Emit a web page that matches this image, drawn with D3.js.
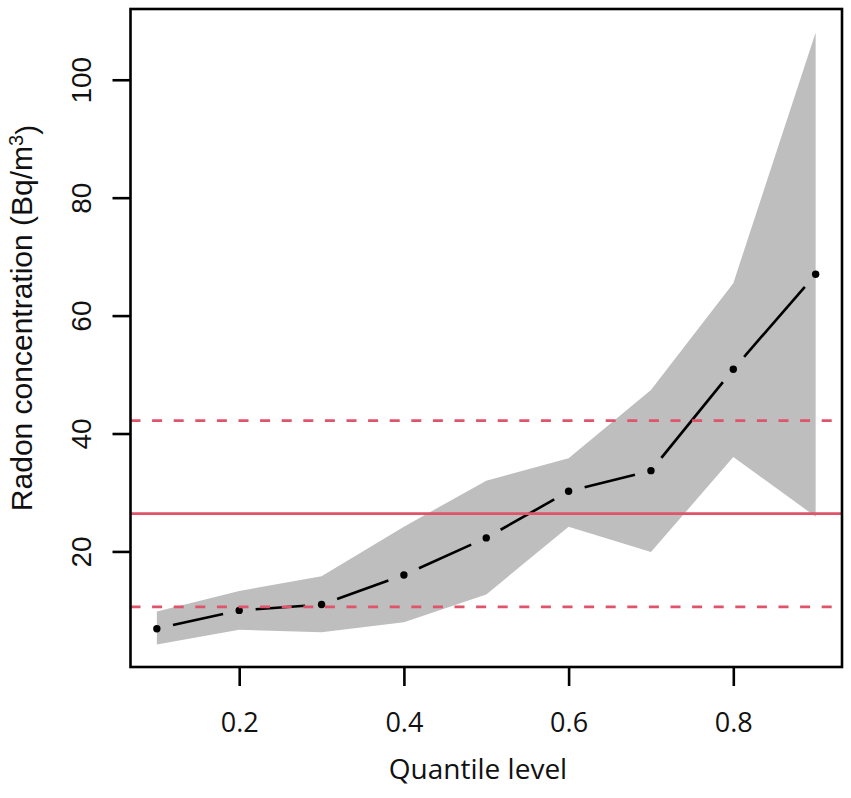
<!DOCTYPE html>
<html>
<head>
<meta charset="utf-8">
<script src="https://cdn.jsdelivr.net/npm/d3@7"></script>
<style>
  body { margin: 0; background: #fff; }
  svg { display: block; }
</style>
</head>
<body>
<div id="chart"></div>
<script>
// quantile levels and the estimated radon concentration at each one
const levels = [0.1, 0.2, 0.3, 0.4, 0.5, 0.6, 0.7, 0.8, 0.9];
const estimate = [6.9, 10.0, 11.0, 16.0, 22.3, 30.2, 33.7, 50.9, 67.0];
const bandLow = [4.2, 6.7, 6.3, 8.0, 12.7, 24.2, 19.9, 36.0, 25.9];
const bandHigh = [9.8, 13.3, 15.8, 24.2, 32.0, 35.8, 47.4, 65.5, 108.0];

// reference lines (solid mean, dashed limits)
const refMid = 26.4;
const refLimits = [10.6, 42.2];

const xTicks = [0.2, 0.4, 0.6, 0.8];
const yTicks = [20, 40, 60, 80, 100];

const width = 851, height = 798;
const red = "#DF536B";

let svg = d3.select("#chart").append("svg")
    .attr("width", width)
    .attr("height", height);

let x = d3.scaleLinear().domain([0.068, 0.932]).range([130.5, 842]);
let y = d3.scaleLinear().domain([0.4, 112]).range([667, 9]);

let rows = levels.map(function (q, i) {
    return {q: q, est: estimate[i], lo: bandLow[i], hi: bandHigh[i]};
});

// plot region clip so ablines stop at the box
svg.append("clipPath").attr("id", "plotclip")
    .append("rect")
    .attr("x", x.range()[0]).attr("y", y.range()[1])
    .attr("width", x.range()[1] - x.range()[0])
    .attr("height", y.range()[0] - y.range()[1]);

let plot = svg.append("g").attr("clip-path", "url(#plotclip)");

// grey band
let area = d3.area()
    .x(function (d) { return x(d.q); })
    .y0(function (d) { return y(d.lo); })
    .y1(function (d) { return y(d.hi); });

plot.append("path")
    .datum(rows)
    .attr("d", area)
    .attr("fill", "#BEBEBE");

// type = "b": segments with gaps round the points
let gap = 16.5;
let segs = d3.pairs(rows);
plot.selectAll(".seg")
    .data(segs)
    .enter()
    .append("line")
    .attr("class", "seg")
    .each(function (p) {
        let x1 = x(p[0].q), y1 = y(p[0].est);
        let x2 = x(p[1].q), y2 = y(p[1].est);
        let len = Math.hypot(x2 - x1, y2 - y1);
        let ux = (x2 - x1) / len, uy = (y2 - y1) / len;
        d3.select(this)
            .attr("x1", x1 + ux * gap).attr("y1", y1 + uy * gap)
            .attr("x2", x2 - ux * gap).attr("y2", y2 - uy * gap);
    })
    .attr("stroke", "black")
    .attr("stroke-width", 2.6);

plot.selectAll(".pt")
    .data(rows)
    .enter()
    .append("circle")
    .attr("class", "pt")
    .attr("cx", function (d) { return x(d.q); })
    .attr("cy", function (d) { return y(d.est); })
    .attr("r", 3.7)
    .attr("fill", "black");

// horizontal reference lines
plot.append("line")
    .attr("x1", x.range()[0]).attr("x2", x.range()[1])
    .attr("y1", y(refMid)).attr("y2", y(refMid))
    .attr("stroke", red)
    .attr("stroke-width", 2.8);

plot.selectAll(".lim")
    .data(refLimits)
    .enter()
    .append("line")
    .attr("class", "lim")
    .attr("x1", x.range()[0]).attr("x2", x.range()[1])
    .attr("y1", function (d) { return y(d); })
    .attr("y2", function (d) { return y(d); })
    .attr("stroke", red)
    .attr("stroke-width", 2.8)
    .attr("stroke-dasharray", "10 11.6");

// box
svg.append("rect")
    .attr("x", x.range()[0]).attr("y", y.range()[1])
    .attr("width", x.range()[1] - x.range()[0])
    .attr("height", y.range()[0] - y.range()[1])
    .attr("fill", "none")
    .attr("stroke", "black")
    .attr("stroke-width", 2.6);

// x axis
let xAxis = svg.append("g")
    .attr("transform", "translate(0," + y.range()[0] + ")")
    .call(d3.axisBottom(x).tickValues(xTicks).tickSize(19).tickFormat(d3.format(".1f")));
xAxis.select(".domain").remove();
xAxis.selectAll(".tick line").attr("stroke-width", 2.6);
xAxis.selectAll(".tick text")
    .attr("y", 65)
    .attr("dy", null)
    .style("font-family", "'Open Sans', sans-serif")
    .style("font-size", "27px")
    .attr("fill", "#111");

// y axis, labels turned like R's las = 0
let yAxis = svg.append("g")
    .attr("transform", "translate(" + x.range()[0] + ",0)")
    .call(d3.axisLeft(y).tickValues(yTicks).tickSize(18));
yAxis.select(".domain").remove();
yAxis.selectAll(".tick line").attr("stroke-width", 2.6);
yAxis.selectAll(".tick text")
    .attr("transform", "rotate(-90)")
    .attr("x", 0)
    .attr("y", -40)
    .attr("dy", null)
    .attr("text-anchor", "middle")
    .style("font-family", "'Liberation Sans', Arial, sans-serif")
    .style("font-size", "28px")
    .attr("fill", "#111");

// axis titles
svg.append("text")
    .attr("x", 478)
    .attr("y", 779)
    .attr("text-anchor", "middle")
    .style("font-family", "'Open Sans', sans-serif")
    .style("font-size", "28px")
    .attr("fill", "#111")
    .text("Quantile level");

let ytitle = svg.append("text")
    .attr("transform", "translate(32,318) rotate(-90)")
    .attr("text-anchor", "middle")
    .style("font-family", "'Liberation Sans', Arial, sans-serif")
    .style("font-size", "30px")
    .attr("fill", "#111");
ytitle.append("tspan").text("Radon concentration (Bq/m");
ytitle.append("tspan").attr("dy", "-0.45em").style("font-size", "20px").text("3");
ytitle.append("tspan").attr("dy", "0.45em").text(")");
</script>
</body>
</html>
